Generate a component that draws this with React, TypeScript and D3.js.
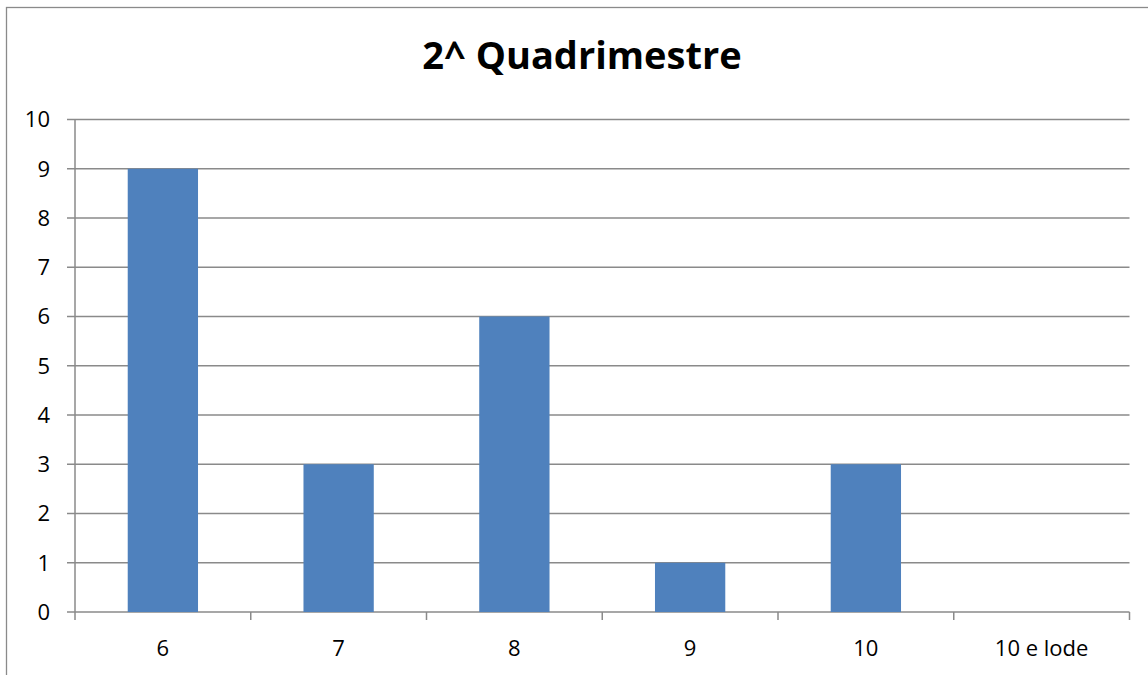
import React, { useEffect, useRef } from "react";
import * as d3 from "d3";

const categories = ["6", "7", "8", "9", "10", "10 e lode"];
const values = [9, 3, 6, 1, 3, 0];
const yTicks = [0, 1, 2, 3, 4, 5, 6, 7, 8, 9, 10];
const title = "2^ Quadrimestre";

const W = 1148;
const H = 675;
const FONT = "'Open Sans', 'Liberation Sans', sans-serif";

const App = () => {
  const svgRef = useRef<SVGSVGElement>(null);

  useEffect(() => {
    const svg = d3.select(svgRef.current);
    svg.selectAll("*").remove();

    const left = 75;
    const right = 1129.5;
    const top = 119.5;
    const bottom = 612;

    // outer frame, cut off on the right and bottom
    svg
      .append("rect")
      .attr("x", 6.5)
      .attr("y", 7.5)
      .attr("width", W + 20)
      .attr("height", H + 20)
      .attr("fill", "white")
      .attr("stroke", "#8a8a8a")
      .attr("stroke-width", 1.3);

    const x = d3.scaleBand().domain(categories).range([left, right]).paddingInner(0.6).paddingOuter(0.3);
    const xOuter = d3.scaleBand().domain(categories).range([left, right]);
    const y = d3.scaleLinear().domain([0, 10]).range([bottom, top]);

    // gridlines + y ticks
    const g = svg.append("g");
    g.selectAll("line.grid")
      .data(yTicks)
      .join("line")
      .attr("class", "grid")
      .attr("x1", left - 8)
      .attr("x2", right)
      .attr("y1", (d) => y(d))
      .attr("y2", (d) => y(d))
      .attr("stroke", "#8a8a8a")
      .attr("stroke-width", 1.5);

    g.selectAll("text.ylab")
      .data(yTicks)
      .join("text")
      .attr("class", "ylab")
      .attr("x", 50)
      .attr("y", (d) => y(d))
      .attr("dy", "0.36em")
      .attr("text-anchor", "end")
      .attr("font-family", FONT)
      .attr("font-size", 22)
      .attr("fill", "#000")
      .text((d) => d);

    // bars
    svg
      .append("g")
      .selectAll("rect")
      .data(values)
      .join("rect")
      .attr("x", (_, i) => x(categories[i]) as number)
      .attr("width", x.bandwidth())
      .attr("y", (d) => y(d))
      .attr("height", (d) => bottom - y(d))
      .attr("fill", "#4F81BD");

    // y axis line
    svg
      .append("line")
      .attr("x1", left)
      .attr("x2", left)
      .attr("y1", top)
      .attr("y2", bottom)
      .attr("stroke", "#8a8a8a")
      .attr("stroke-width", 1.5);

    // x axis ticks at category boundaries
    const bounds = categories.map((c) => xOuter(c) as number).concat([right]);
    svg
      .append("g")
      .selectAll("line")
      .data(bounds)
      .join("line")
      .attr("x1", (d) => d)
      .attr("x2", (d) => d)
      .attr("y1", bottom)
      .attr("y2", bottom + 8)
      .attr("stroke", "#8a8a8a")
      .attr("stroke-width", 1.5);

    svg
      .append("g")
      .selectAll("text")
      .data(categories)
      .join("text")
      .attr("x", (d) => (xOuter(d) as number) + xOuter.bandwidth() / 2)
      .attr("y", 656)
      .attr("text-anchor", "middle")
      .attr("font-family", FONT)
      .attr("font-size", 22)
      .attr("fill", "#000")
      .text((d) => d);

    svg
      .append("text")
      .attr("x", 582)
      .attr("y", 69)
      .attr("text-anchor", "middle")
      .attr("font-family", FONT)
      .attr("font-weight", "bold")
      .attr("font-size", 38)
      .attr("fill", "#000")
      .text(title);
  }, []);

  return (
    <svg
      ref={svgRef}
      width={W}
      height={H}
      style={{ position: "absolute", left: 0, top: 0, background: "white" }}
    ></svg>
  );
};

export default App;
